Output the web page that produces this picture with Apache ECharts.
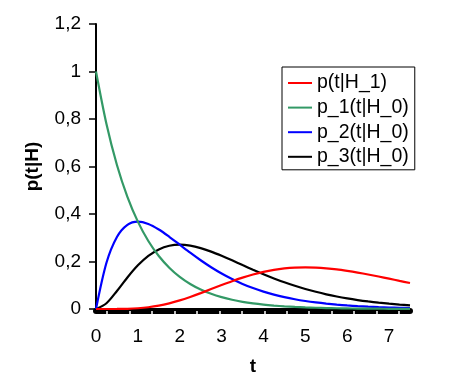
<!DOCTYPE html>
<html>
<head>
<meta charset="utf-8">
<script src="https://cdn.jsdelivr.net/npm/echarts@6/dist/echarts.min.js"></script>
<style>html,body{margin:0;padding:0;background:#fff;}#c{width:462px;height:384px;}</style>
</head>
<body>
<div id="c"></div>
<script>
var tValues = [0,0.25,0.5,0.75,1,1.25,1.5,1.75,2,2.25,2.5,2.75,3,3.25,3.5,3.75,4,4.25,4.5,4.75,5,5.25,5.5,5.75,6,6.25,6.5,6.75,7,7.25,7.5];
var pH1 = [0,0.00001,0.0002,0.0009,0.0031,0.0073,0.0141,0.0238,0.0361,0.0507,0.0668,0.0838,0.1008,0.1172,0.1322,0.1453,0.1563,0.1648,0.1708,0.1744,0.1755,0.1744,0.1714,0.1669,0.1606,0.1534,0.1454,0.1367,0.1277,0.1184,0.1094];
var p1H0 = [1,0.7788,0.6065,0.4724,0.3679,0.2865,0.2231,0.1738,0.1353,0.1054,0.0821,0.0639,0.0498,0.0388,0.0302,0.0235,0.0183,0.0143,0.0111,0.0087,0.0067,0.0052,0.0041,0.0032,0.0025,0.0019,0.0015,0.0012,0.0009,0.0007,0.0006];
var p2H0 = [0,0.1947,0.3033,0.3543,0.3679,0.3581,0.3347,0.3041,0.2707,0.2371,0.2052,0.1758,0.1494,0.1261,0.1057,0.0882,0.0733,0.0606,0.0500,0.0411,0.0337,0.0276,0.0225,0.0183,0.0149,0.0121,0.0098,0.0079,0.0064,0.0052,0.0041];
var p3H0 = [0,0.0243,0.0758,0.1329,0.1839,0.2238,0.2510,0.2661,0.2707,0.2668,0.2565,0.2417,0.2240,0.2049,0.1850,0.1654,0.1465,0.1288,0.1125,0.0977,0.0842,0.0724,0.0618,0.0526,0.0446,0.0377,0.0318,0.0267,0.0223,0.0187,0.0156];
var seriesNames = ['p(t|H_1)','p_1(t|H_0)','p_2(t|H_0)','p_3(t|H_0)'];
var xTickLabels = [0,1,2,3,4,5,6,7];
var xMinorTicks = [0.268,0.804,1.340,1.876,2.412,2.948,3.484,4.020,4.556,5.092,5.628,6.164,6.700,7.236];

function pairs(arr){ return tValues.map(function(t,i){ return [t, arr[i]]; }); }
var colors = ['#ff0000','#339966','#0000ff','#000000'];
var dataSets = [pH1, p1H0, p2H0, p3H0];
var font = 'Liberation Sans, Arial, sans-serif';

var chart = echarts.init(document.getElementById('c'), null, {renderer:'canvas'});
chart.setOption({
  animation: false,
  backgroundColor: '#fff',
  grid: {left: 96, top: 24, width: 314, height: 285, containLabel: false},
  legend: {
    orient: 'vertical', left: 282, top: 67,
    data: seriesNames,
    icon: 'rect', itemWidth: 24, itemHeight: 2, itemGap: 4.6,
    borderColor: '#000', borderWidth: 1, backgroundColor: '#fff',
    padding: [6, 6, 3, 6],
    textStyle: {fontFamily: font, fontSize: 19.5, color: '#000', lineHeight: 20}
  },
  xAxis: {
    type: 'value', min: 0, max: 7.5,
    name: 't', nameLocation: 'middle', nameGap: 46,
    nameTextStyle: {fontFamily: font, fontSize: 19, fontWeight: 'bold', color: '#000'},
    offset: 2,
    axisLine: {show: true, onZero: false, lineStyle: {color: '#000', width: 6}},
    axisTick: {show: true, customValues: xMinorTicks, length: 4, inside: false, lineStyle: {color: '#fff', width: 1.5}},
    axisLabel: {customValues: xTickLabels, margin: 16, fontFamily: font, fontSize: 19, color: '#000'},
    splitLine: {show: false}
  },
  yAxis: {
    type: 'value', min: 0, max: 1.2, interval: 0.2,
    name: 'p(t|H)', nameLocation: 'middle', nameGap: 54, nameRotate: 90,
    nameTextStyle: {fontFamily: font, fontSize: 19, fontWeight: 'bold', color: '#000'},
    axisLine: {show: true, lineStyle: {color: '#000', width: 2}},
    axisTick: {show: true, length: 7, lineStyle: {color: '#000', width: 1.5}},
    axisLabel: {margin: 15, fontFamily: font, fontSize: 19, color: '#000',
      formatter: function(v){ return String(Math.round(v*10)/10).replace('.', ','); }},
    splitLine: {show: false}
  },
  series: dataSets.map(function(d, i){
    return {
      name: seriesNames[i], type: 'line', data: pairs(d), smooth: 0.3,
      symbol: 'none', color: colors[i],
      lineStyle: {color: colors[i], width: 2.2}, z: 2 + (3 - i)
    };
  })
});
</script>
</body>
</html>
